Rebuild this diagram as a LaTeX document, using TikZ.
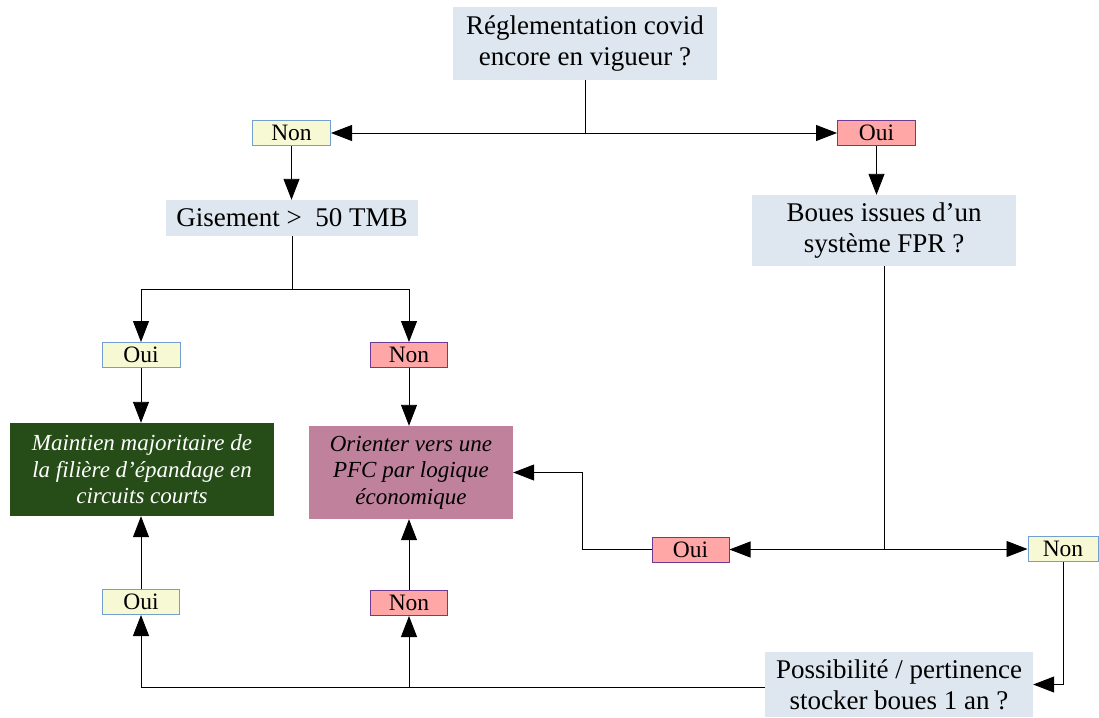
\documentclass[tikz,border=0pt]{standalone}
\usepackage{fontspec}
\setmainfont{Liberation Serif}
\usetikzlibrary{arrows.meta}
\definecolor{qfill}{HTML}{DEE6EF}
\definecolor{yesfill}{HTML}{F6F9D4}
\definecolor{yesdraw}{HTML}{729FCF}
\definecolor{redfill}{HTML}{FFA6A6}
\definecolor{reddraw}{HTML}{6F3A91}
\definecolor{greenbox}{HTML}{264D17}
\definecolor{mauvebox}{HTML}{BF819B}
\begin{document}
\begin{tikzpicture}[x=1pt,y=-1pt,
  question/.style={fill=qfill,draw=none,inner sep=0pt,align=center,
    font=\fontsize{27}{31}\selectfont},
  lbl/.style={inner sep=0pt,line width=1pt,minimum height=25pt,
    font=\fontsize{23.5}{27}\selectfont},
  lblyes/.style={lbl,fill=yesfill,draw=yesdraw},
  lblno/.style={lbl,fill=redfill,draw=reddraw},
  outcome/.style={draw=none,inner sep=0pt,align=center,
    font=\fontsize{23}{26.5}\selectfont\itshape},
  conn/.style={line width=0.9pt,-{Triangle[length=21pt,width=16pt]}},
  plain/.style={line width=0.9pt}]
\useasboundingbox (0,0) rectangle (1099,717);

% questions
\node[question,minimum width=264pt,minimum height=73pt] (covid) at (585,43.5)
  {Réglementation covid\\encore en vigueur ?};
\node[question,minimum width=252pt,minimum height=36pt] (gis) at (292,218)
  {Gisement >\ \ 50 TMB};
\node[question,minimum width=264pt,minimum height=71pt] (fpr) at (884,230.5)
  {Boues issues d’un\\système FPR ?};
\node[question,minimum width=268pt,minimum height=65pt] (stock) at (899,684.5)
  {Possibilité / pertinence\\stocker boues 1 an ?};

% answers
\node[lblyes,minimum width=78pt] (non1) at (291.5,133) {Non};
\node[lblno,minimum width=78pt] (oui1) at (876.5,133) {Oui};
\node[lblyes,minimum width=78pt] (oui2) at (141,355) {Oui};
\node[lblno,minimum width=77pt] (non2) at (409,355) {Non};
\node[lblyes,minimum width=77pt] (oui3) at (141,602) {Oui};
\node[lblno,minimum width=77pt] (non3) at (409,603) {Non};
\node[lblno,minimum width=77pt] (oui4) at (690.5,549.5) {Oui};
\node[lblyes,minimum width=70pt] (non4) at (1063,549) {Non};

% outcomes
\node[outcome,fill=greenbox,text=white,minimum width=264pt,minimum height=93pt] (green) at (142,469.5)
  {Maintien majoritaire de\\la filière d’épandage en\\circuits courts};
\node[outcome,fill=mauvebox,text=black,minimum width=204pt,minimum height=93pt] (pfc) at (411,472.5)
  {Orienter vers une\\PFC par logique\\économique};

% connectors
\draw[conn] (covid.south) |- (non1.east);
\draw[conn] (covid.south) |- (oui1.west);
\draw[conn] (non1.south) -- (non1.south |- gis.north);
\coordinate (split) at (292,289);
\draw[plain] (gis.south) -- (split);
\draw[conn] (split) -| (oui2.north);
\draw[conn] (split) -| (non2.north);
\draw[conn] (oui2.south) -- (oui2.south |- green.north);
\draw[conn] (non2.south) -- (non2.south |- pfc.north);
\draw[conn] (oui1.south) -- (oui1.south |- fpr.north);
\draw[conn] (fpr.south) |- (oui4.east);
\draw[conn] (fpr.south) |- (non4.west);
\coordinate (bend) at (582,549.5);
\draw[conn] (oui4.west) -- (bend) |- (pfc.east);
\draw[conn] (non4.south) |- (stock.east);
\coordinate (base) at (409,687);
\draw[conn] (stock.west |- base) -| (oui3.south);
\draw[conn] (base) -- (non3.south);
\draw[conn] (oui3.north) -- (oui3.north |- green.south);
\draw[conn] (non3.north) -- (non3.north |- pfc.south);
\end{tikzpicture}
\end{document}
